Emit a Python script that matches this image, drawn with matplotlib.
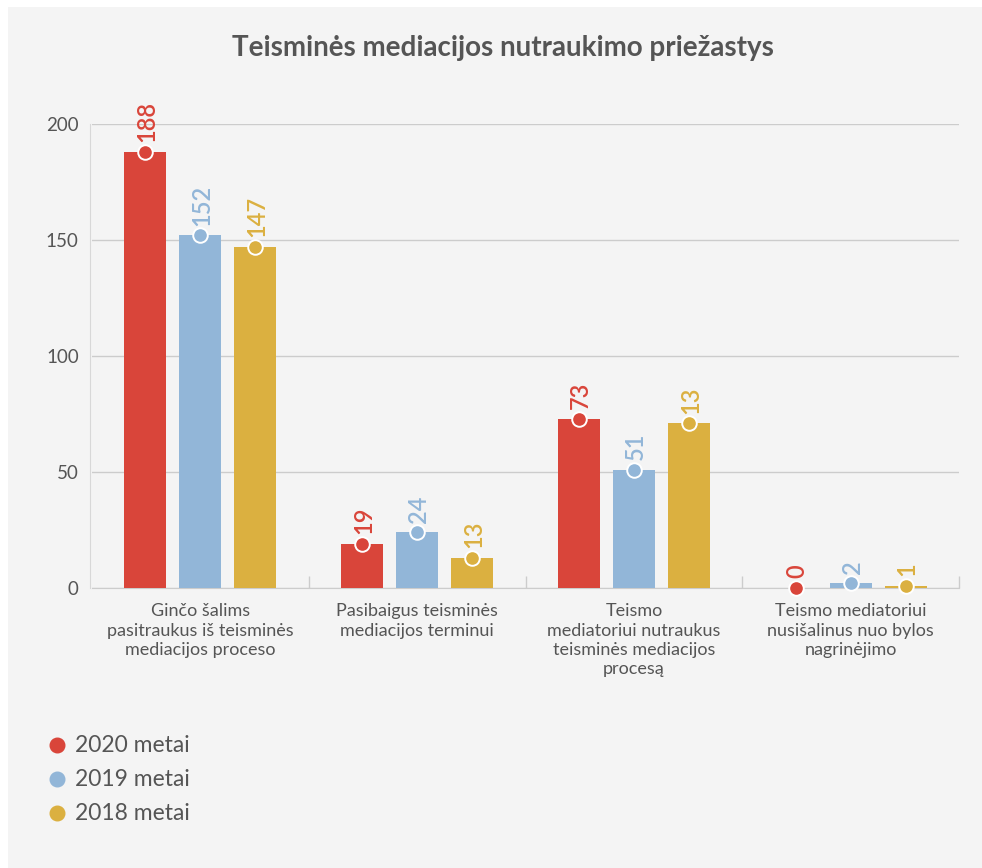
import matplotlib
matplotlib.use("Agg")
import matplotlib.pyplot as plt
from matplotlib.patches import Rectangle
import numpy as np

plt.rcParams['font.family'] = ['Lato', 'DejaVu Sans']

# Data
categories = [
    "Ginčo šalims\npasitraukus iš teisminės\nmediacijos proceso",
    "Pasibaigus teisminės\nmediacijos terminui",
    "Teismo\nmediatoriui nutraukus\nteisminės mediacijos\nprocesą",
    "Teismo mediatoriui\nnusišalinus nuo bylos\nnagrinėjimo",
]
series_names = ["2020 metai", "2019 metai", "2018 metai"]
values_2020 = [188, 19, 73, 0]
values_2019 = [152, 24, 51, 2]
values_2018 = [147, 13, 71, 1]
# Printed value labels (as published)
labels_2020 = ["188", "19", "73", "0"]
labels_2019 = ["152", "24", "51", "2"]
labels_2018 = ["147", "13", "13", "1"]
yticks = [0, 50, 100, 150, 200]

colors = ["#d9453a", "#92b6d8", "#dbb040"]
bg = "#f4f4f4"
text_col = "#555555"

fig = plt.figure(figsize=(9.82, 8.68), dpi=100)
fig.patch.set_facecolor("white")
fig.patches.append(Rectangle((8 / 982, 0), 1, 1 - 7 / 868, transform=fig.transFigure,
                             facecolor=bg, edgecolor="none", zorder=-10))

ax = fig.add_axes([92 / 982, 280 / 868, (959 - 92) / 982, (588 - 124) / 868])
ax.set_facecolor(bg)

# Spines first (moving a spine resets its axis tick settings)
for s in ["top", "right"]:
    ax.spines[s].set_visible(False)
ax.spines["left"].set_position(("outward", 1.5))
ax.spines["left"].set_color("#d8d8d8")
ax.spines["bottom"].set_color("#cccccc")

x = np.arange(len(categories))
offsets = [-0.254, 0, 0.254]
bar_w = 0.194
all_vals = [values_2020, values_2019, values_2018]
all_labels = [labels_2020, labels_2019, labels_2018]

for vals, labs, off, col in zip(all_vals, all_labels, offsets, colors):
    ax.bar(x + off, vals, width=bar_w, color=col, zorder=3, linewidth=0)
    ax.plot(x + off, vals, "o", color=col, markersize=10.5, markeredgecolor="white",
            markeredgewidth=1.4, zorder=4, clip_on=False, linestyle="none")
    for xi, v, lab in zip(x + off, vals, labs):
        ax.annotate(lab, (xi, v), xytext=(1, 7), textcoords="offset points",
                    ha="center", va="bottom", rotation=90, color=col,
                    fontsize=17, fontweight="semibold", zorder=5)

ax.set_xlim(-0.5, len(categories) - 0.5)
ax.set_ylim(0, 200)
ax.set_yticks(yticks)
ax.set_yticklabels([str(t) for t in yticks], fontsize=13.5, color=text_col)
ax.tick_params(axis="y", length=0, pad=8)
ax.grid(axis="y", color="#cccccc", linewidth=1, zorder=0)

ax.set_xticks(x)
ax.set_xticklabels(categories, fontsize=13, color=text_col,
                   linespacing=1.25, va="top")
ax.tick_params(axis="x", length=0, pad=11)
ax.set_xticks(np.arange(0.5, len(categories)), minor=True)
ax.tick_params(axis="x", which="minor", direction="in", length=9, color="#cccccc", width=1)

fig.text(503 / 982, 1 - 48 / 868, "Teisminės mediacijos nutraukimo priežastys",
         ha="center", va="center", fontsize=20, fontweight="bold", color=text_col)

# Legend
for i, (name, col) in enumerate(zip(series_names, colors)):
    yy = 1 - (745 + i * 34) / 868
    fig.lines.append(plt.Line2D([57 / 982], [yy], marker="o", markersize=10.5, color=col,
                                transform=fig.transFigure, linestyle="none"))
    fig.text(75 / 982, yy, name, ha="left", va="center", fontsize=16.5,
             color=text_col)

fig.savefig("out.png", dpi=100, facecolor=fig.get_facecolor())
